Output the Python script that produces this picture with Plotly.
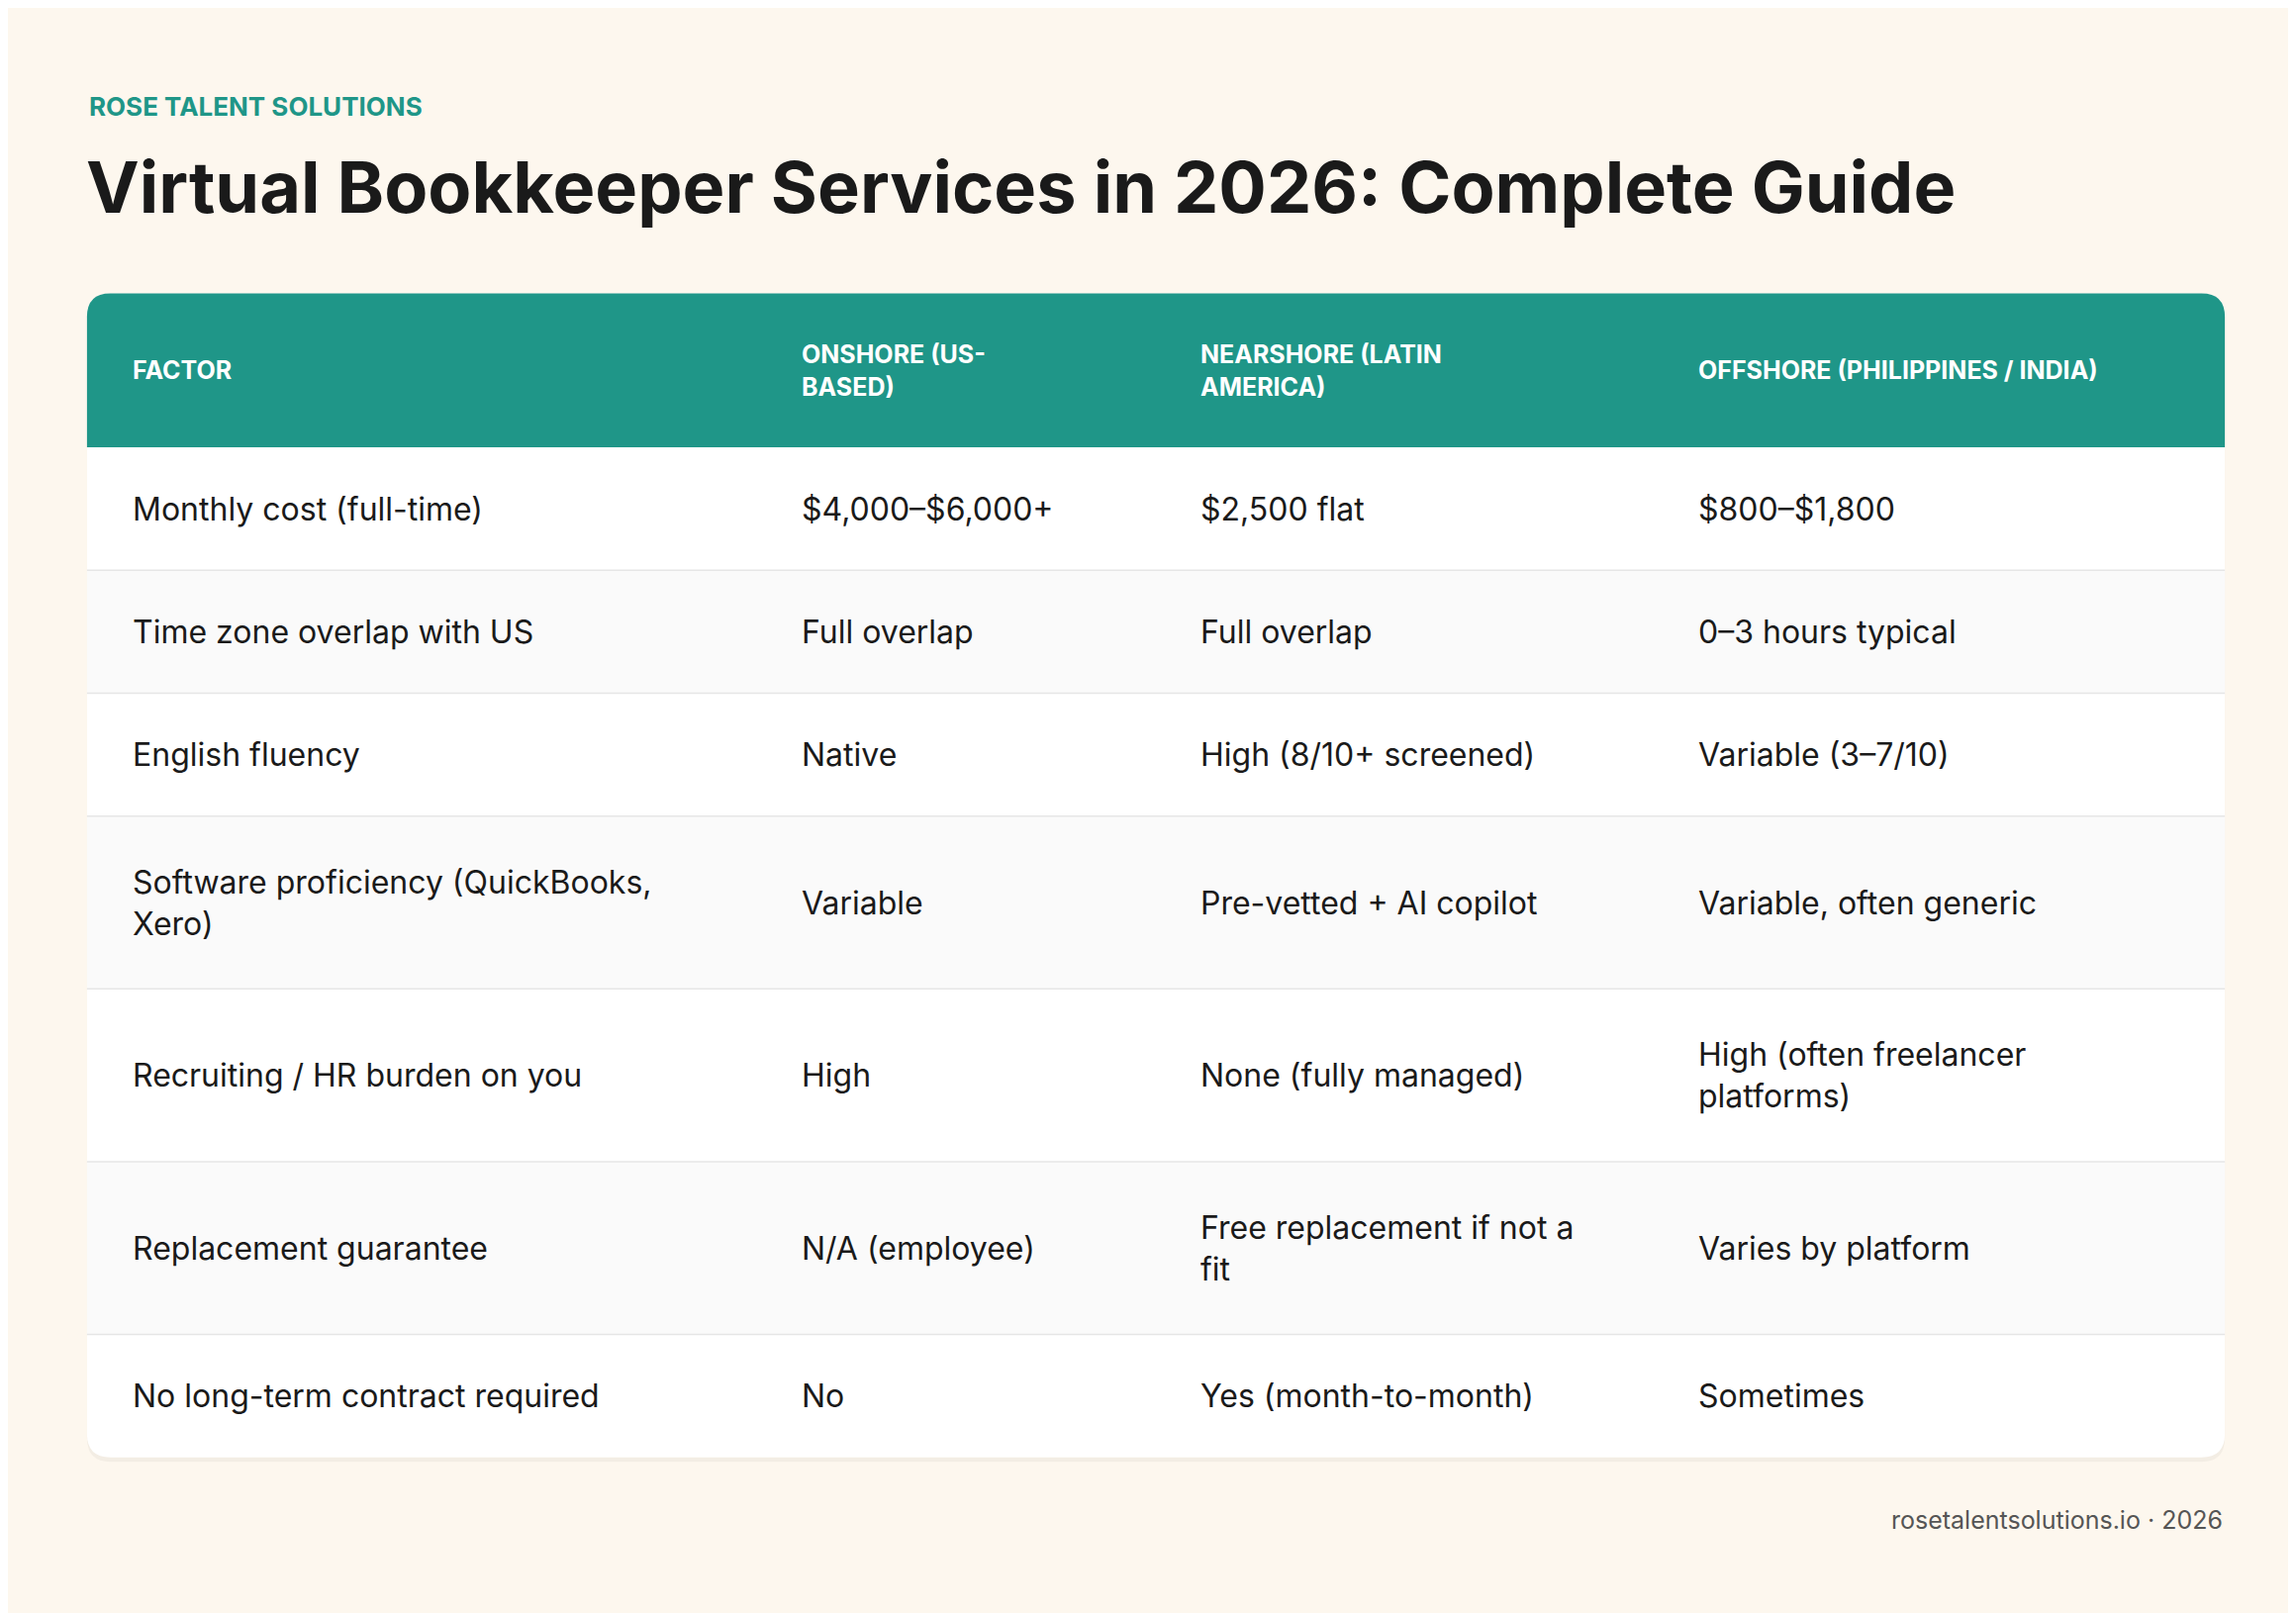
import plotly.graph_objects as go

S = 2320/1568
brand = "ROSE TALENT SOLUTIONS"
title = "Virtual Bookkeeper Services in 2026: Complete Guide"
footer = "rosetalentsolutions.io · 2026"
headers = ["FACTOR", "ONSHORE (US-<br>BASED)", "NEARSHORE (LATIN<br>AMERICA)", "OFFSHORE (PHILIPPINES / INDIA)"]
factors = ["Monthly cost (full-time)", "Time zone overlap with US", "English fluency",
           "Software proficiency (QuickBooks,<br>Xero)", "Recruiting / HR burden on you",
           "Replacement guarantee", "No long-term contract required"]
onshore = ["$4,000–$6,000+", "Full overlap", "Native", "Variable", "High", "N/A (employee)", "No"]
nearshore = ["$2,500 flat", "Full overlap", "High (8/10+ screened)", "Pre-vetted + AI copilot",
             "None (fully managed)", "Free replacement if not a<br>fit", "Yes (month-to-month)"]
offshore = ["$800–$1,800", "0–3 hours typical", "Variable (3–7/10)", "Variable, often generic",
            "High (often freelancer<br>platforms)", "Varies by platform", "Sometimes"]

colx = [84, 541, 813, 1153]
X0, X1, Y0, HH = 54, 1514, 195, 105
TEAL = "#1f9688"
fig = go.Figure()
fig.update_layout(width=2320, height=1630, margin=dict(l=0, r=0, t=0, b=0),
                  paper_bgcolor="#fdf7ee", plot_bgcolor="#fdf7ee", showlegend=False,
                  xaxis=dict(range=[0, 2320], visible=False, fixedrange=True),
                  yaxis=dict(range=[1630, 0], visible=False, fixedrange=True))
fig.add_trace(go.Scatter(x=[0], y=[0], mode="markers", marker=dict(opacity=0)))
F = "Inter, Open Sans, sans-serif"
def ann(x, y, t, size, color, bold=False, xa="left"):
    fig.add_annotation(x=x*S, y=y*S, text=f"<b>{t}</b>" if bold else t, showarrow=False,
                       xanchor=xa, yanchor="middle", align="left",
                       font=dict(family=F, size=size, color=color))
ann(54, 67, brand, 26, TEAL, True)
ann(52, 122, title, 72, "#1a1a1a", True)
ann(1514, 1033, footer, 25, "#555", xa="right")

rows = list(zip(factors, onshore, nearshore, offshore))
heights = [84 + 34*(max(c.count("<br>") for c in r)) for r in rows]
Yend = Y0 + HH + sum(heights)
r = 16
def rpath(x0, y0, x1, y1, rt, rb):
    x0, y0, x1, y1, rt, rb = [v*S for v in (x0, y0, x1, y1, rt, rb)]
    return (f"M{x0+rt},{y0} L{x1-rt},{y0} Q{x1},{y0} {x1},{y0+rt} L{x1},{y1-rb} Q{x1},{y1} {x1-rb},{y1} "
            f"L{x0+rb},{y1} Q{x0},{y1} {x0},{y1-rb} L{x0},{y0+rt} Q{x0},{y0} {x0+rt},{y0} Z")
fig.add_shape(type="path", path=rpath(X0, Y0+3, X1, Yend+3, r, r), fillcolor="rgba(0,0,0,0.04)", line_width=0, layer="below")
fig.add_shape(type="path", path=rpath(X0, Y0, X1, Yend, r, r), fillcolor="white", line_width=0, layer="below")
fig.add_shape(type="path", path=rpath(X0, Y0, X1, Y0+HH, r, 0), fillcolor=TEAL, line_width=0, layer="below")
for i, h in enumerate(headers):
    ann(colx[i], Y0+HH/2, h, 25, "white", True)
y = Y0 + HH
for k, (row, h) in enumerate(zip(rows, heights)):
    if k % 2 == 1:
        fig.add_shape(type="rect", x0=X0*S, x1=X1*S, y0=y*S, y1=(y+h)*S, fillcolor="#fafafa", line_width=0, layer="below")
    if k > 0:
        fig.add_shape(type="line", x0=X0*S, x1=X1*S, y0=y*S, y1=y*S, line=dict(color="#e6e6e6", width=1.5))
    for i, c in enumerate(row):
        ann(colx[i], y+h/2, c, 32, "#1a1a1a")
    y += h
fig.write_html("out.html")
